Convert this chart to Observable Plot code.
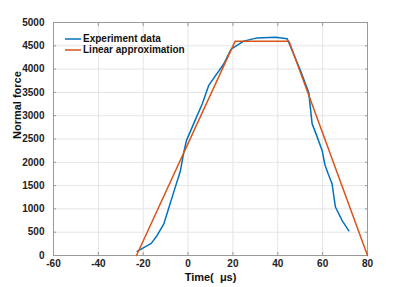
<!DOCTYPE html>
<html>
<head>
<meta charset="utf-8">
<script src="https://cdn.jsdelivr.net/npm/d3@7"></script>
<script src="https://cdn.jsdelivr.net/npm/@observablehq/plot@0.6"></script>
<style>
  html, body { margin: 0; padding: 0; background: #fff; }
  #wrap { position: relative; width: 407px; height: 287px; font-family: "Liberation Sans", Arial, sans-serif; }
  #legend { position: absolute; left: 65px; top: 33px; font-size: 10px; font-weight: bold; color: #111; line-height: 11px; }
  #legend .row { display: flex; align-items: center; height: 11px; }
  #legend svg { margin-right: 2px; }
</style>
</head>
<body>
<div id="wrap"></div>
<script>
// Experiment data
const expTime = [-22.7, -16.4, -13.8, -10.8, -6.4, -3.4, -1.9, -0.7, 1.8, 2.5, 6.3, 9.2, 15.9, 19.2, 24.8, 30.8, 39.0, 44.2, 46.4, 50.1, 53.8, 55.3, 57.6, 59.8, 61.0, 62.5, 64.2, 65.7, 68.7, 71.7];
const expForce = [90, 260, 430, 680, 1360, 1820, 2220, 2470, 2750, 2830, 3250, 3650, 4110, 4430, 4600, 4670, 4685, 4650, 4400, 3970, 3500, 2830, 2540, 2250, 1950, 1750, 1540, 1040, 750, 530];
// Linear approximation
const linTime = [-23, 21, 45, 80];
const linForce = [0, 4600, 4600, 0];
// Ticks
const xTicks = [-60, -40, -20, 0, 20, 40, 60, 80];
const yTicks = [0, 500, 1000, 1500, 2000, 2500, 3000, 3500, 4000, 4500, 5000];
const seriesNames = ["Experiment data", "Linear approximation"];
const seriesColors = ["#0072BD", "#D95319"];

const exp = expTime.map((t, i) => ({t, f: expForce[i]}));
const lin = linTime.map((t, i) => ({t, f: linForce[i]}));

const axisColor = "#999999";
const fmt = d => String(d);
const chart = Plot.plot({
  width: 407,
  height: 287,
  marginLeft: 53,
  marginRight: 40,
  marginTop: 22,
  marginBottom: 32,
  style: {fontFamily: "Liberation Sans, Arial, sans-serif", fontSize: "10px", fontWeight: "bold", color: "#222", background: "#fff"},
  x: {domain: [-60, 80], ticks: xTicks},
  y: {domain: [0, 5000], ticks: yTicks},
  marks: [
    Plot.gridX(xTicks, {stroke: "#e4e4e4", strokeOpacity: 1}),
    Plot.gridY(yTicks, {stroke: "#e4e4e4", strokeOpacity: 1}),
    Plot.axisX(xTicks, {anchor: "bottom", tickSize: 0, tickPadding: 4, tickFormat: fmt, label: null, fill: "#222"}),
    Plot.axisY(yTicks, {anchor: "left", tickSize: 0, tickPadding: 9, tickFormat: fmt, label: null, fill: "#222"}),
    Plot.axisX(xTicks, {anchor: "bottom", tickSize: -3, tickFormat: () => "", label: null, stroke: axisColor}),
    Plot.axisX(xTicks, {anchor: "top", tickSize: -3, tickFormat: () => "", label: null, stroke: axisColor}),
    Plot.axisY(yTicks, {anchor: "left", tickSize: -3, tickFormat: () => "", label: null, stroke: axisColor}),
    Plot.axisY(yTicks, {anchor: "right", tickSize: -3, tickFormat: () => "", label: null, stroke: axisColor}),
    Plot.frame({stroke: axisColor, strokeWidth: 1}),
    Plot.line(exp, {x: "t", y: "f", stroke: seriesColors[0], strokeWidth: 1.5}),
    Plot.line(lin, {x: "t", y: "f", stroke: seriesColors[1], strokeWidth: 1.5}),
    Plot.text(["Time(  \u03BCs)"], {frameAnchor: "bottom", dy: 25, fontSize: 11, fill: "#111"}),
    Plot.text(["Normal force"], {frameAnchor: "left", dx: -36, rotate: -90, fontSize: 11, fill: "#111"})
  ]
});
const wrap = document.getElementById("wrap");
wrap.appendChild(chart);

const legend = document.createElement("div");
legend.id = "legend";
seriesNames.forEach((name, i) => {
  const row = document.createElement("div");
  row.className = "row";
  row.innerHTML = `<svg width="16" height="4"><line x1="0" x2="16" y1="2" y2="2" stroke="${seriesColors[i]}" stroke-width="1.5"/></svg><span>${name}</span>`;
  legend.appendChild(row);
});
wrap.appendChild(legend);
</script>
</body>
</html>
